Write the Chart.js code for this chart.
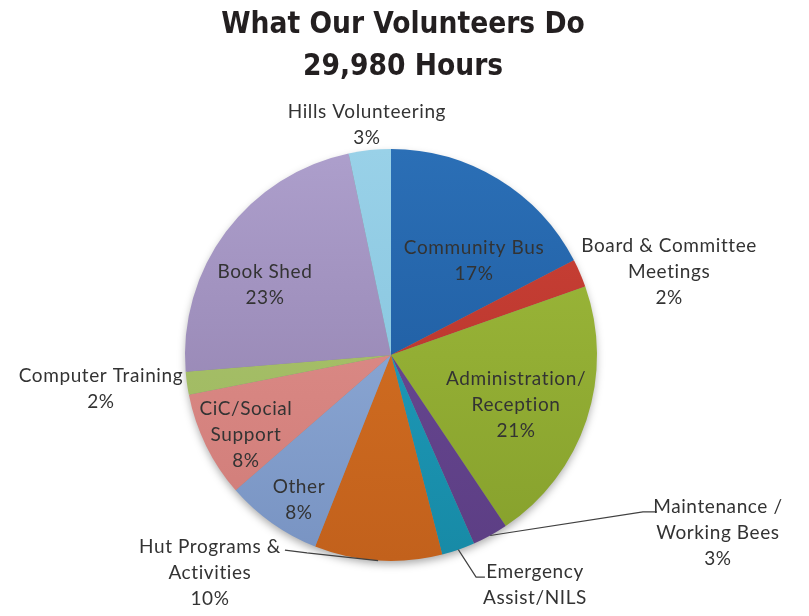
<!DOCTYPE html>
<html>
<head>
<meta charset="utf-8">
<script src="https://cdn.jsdelivr.net/npm/chart.js@4.4.1/dist/chart.umd.min.js"></script>
<style>
  html, body { margin: 0; padding: 0; background: #fff; }
</style>
</head>
<body>
<canvas id="pieChart" width="809" height="616"></canvas>
<script>
const titleLines = ["What Our Volunteers Do", "29,980 Hours"];

// label text as shown in the picture, one array per slice (line breaks kept)
const categories = [
    ["Community Bus"],
    ["Board & Committee", "Meetings"],
    ["Administration/", "Reception"],
    ["Maintenance /", "Working Bees"],
    ["Emergency", "Assist/NILS"],
    ["Hut Programs &", "Activities"],
    ["Other"],
    ["CiC/Social", "Support"],
    ["Computer Training"],
    ["Book Shed"],
    ["Hills Volunteering"]
];

// share of the 29,980 hours, in percent
const shares = [17.4, 2.2, 21.0, 2.8, 2.6, 10.0, 7.6, 8.3, 1.8, 23.0, 3.3];

const topColors = ["#2b6fb6", "#cc4236", "#a0bc3c", "#6e4c98", "#22a3c4", "#da7424",
    "#98b5e0", "#e39490", "#aec670", "#ad9fcc", "#99d1e8"];
const bottomColors = ["#1a5598", "#b0302a", "#86a02c", "#5c3e84", "#178aa6", "#c2611c",
    "#7893c2", "#cf7b77", "#9ab55c", "#8c7ba8", "#7fc0da"];

// where each label block sits, in pie radii from the centre; leader = elbow points
const labelLayout = [
    { at: [0.403, -0.456] },
    { at: [1.350, -0.403] },
    { at: [0.607, 0.243] },
    { at: [1.587, 0.864], leader: [[1.223, 0.762], [1.291, 0.762]] },
    { at: [0.699, 1.180], leader: [[0.413, 1.078], [0.456, 1.078]] },
    { at: [-0.879, 1.058], leader: [[-0.408, 0.961], [-0.515, 0.947]] },
    { at: [-0.447, 0.704] },
    { at: [-0.704, 0.388] },
    { at: [-1.408, 0.165] },
    { at: [-0.612, -0.340] },
    { at: [-0.117, -1.117] }
];

const total = shares.reduce((a, b) => a + b, 0);

const pieDecor = {
    id: "pieDecor",
    beforeDatasetsDraw(chart) {
        const arc = chart.getDatasetMeta(0).data[0];
        if (!arc) return;
        const { x, y, outerRadius } = arc.getProps(["x", "y", "outerRadius"], true);
        const ctx = chart.ctx;
        ctx.save();
        ctx.shadowColor = "rgba(0,0,0,0.35)";
        ctx.shadowBlur = 8;
        ctx.shadowOffsetY = 4;
        ctx.fillStyle = "#888";
        ctx.beginPath();
        ctx.arc(x, y, outerRadius - 1, 0, Math.PI * 2);
        ctx.fill();
        ctx.restore();
    },
    afterDatasetsDraw(chart) {
        const ctx = chart.ctx;
        const meta = chart.getDatasetMeta(0);
        ctx.save();
        ctx.font = "19px Lato";
        ctx.letterSpacing = "0.6px";
        ctx.fillStyle = "#333333";
        ctx.strokeStyle = "#404040";
        ctx.lineWidth = 1.2;
        ctx.textAlign = "center";
        ctx.textBaseline = "middle";
        const lineH = 26;
        meta.data.forEach((arc, i) => {
            const p = arc.getProps(["x", "y", "outerRadius", "startAngle", "endAngle"], true);
            const mid = (p.startAngle + p.endAngle) / 2;
            const r = p.outerRadius;
            const lay = labelLayout[i];
            if (lay.leader) {
                ctx.beginPath();
                ctx.moveTo(p.x + Math.cos(mid) * r, p.y + Math.sin(mid) * r);
                lay.leader.forEach(pt => ctx.lineTo(p.x + pt[0] * r, p.y + pt[1] * r));
                ctx.stroke();
            }
            const pct = Math.round(shares[i] / total * 100) + "%";
            const lines = [...categories[i], pct];
            const cx = p.x + lay.at[0] * r;
            const cy = p.y + lay.at[1] * r;
            lines.forEach((t, k) => {
                ctx.fillText(t, cx, cy + (k - (lines.length - 1) / 2) * lineH);
            });
        });
        ctx.restore();

        // title, squeezed a little to the reference width
        ctx.save();
        ctx.font = "bold 31px 'DejaVu Sans Condensed'";
        ctx.fillStyle = "#231f20";
        ctx.textAlign = "center";
        ctx.textBaseline = "alphabetic";
        ctx.translate(403, 0);
        ctx.scale(0.953, 1);
        ctx.fillText(titleLines[0], 0, 33);
        ctx.fillText(titleLines[1], 0, 75);
        ctx.restore();
    }
};

new Chart(document.getElementById("pieChart").getContext("2d"), {
    type: "pie",
    data: {
        labels: categories,
        datasets: [{
            data: shares,
            backgroundColor: (c) => {
                const area = c.chart.chartArea;
                if (!area) return topColors[c.dataIndex];
                const g = c.chart.ctx.createLinearGradient(0, area.top, 0, area.bottom);
                g.addColorStop(0, topColors[c.dataIndex]);
                g.addColorStop(1, bottomColors[c.dataIndex]);
                return g;
            },
            borderWidth: 0,
            hoverOffset: 0
        }]
    },
    options: {
        responsive: false,
        animation: false,
        devicePixelRatio: 1,
        layout: { padding: { top: 149, bottom: 55, left: 0, right: 27 } },
        plugins: {
            legend: { display: false },
            tooltip: { enabled: false },
            title: { display: false }
        }
    },
    plugins: [pieDecor]
});
</script>
</body>
</html>
